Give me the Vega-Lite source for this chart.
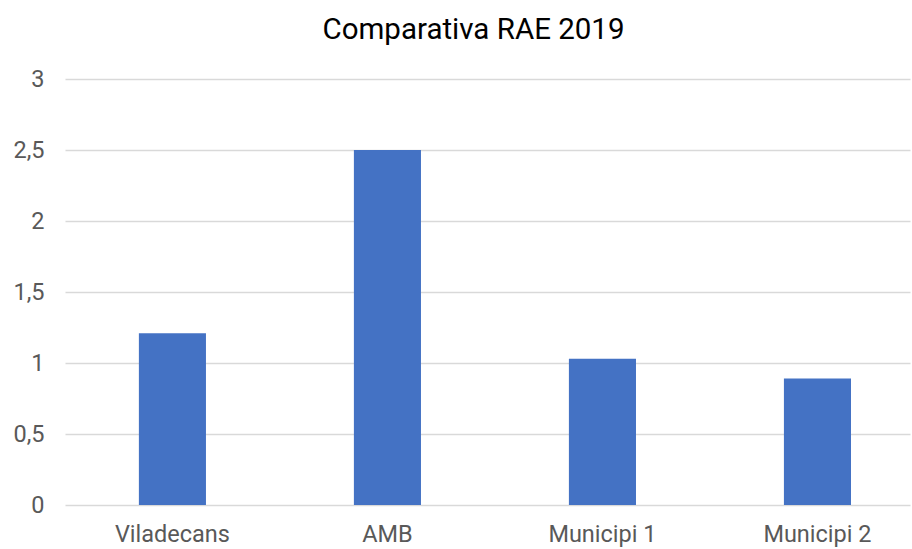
{
  "$schema": "https://vega.github.io/schema/vega-lite/v6.json",
  "width": 845,
  "height": 426,
  "autosize": {"type": "none"},
  "padding": {"left": 65, "top": 79, "right": 2, "bottom": 44},
  "background": "white",
  "title": {
    "text": "Comparativa RAE 2019",
    "font": "Roboto",
    "fontSize": 29.5,
    "fontWeight": "normal",
    "color": "#000000",
    "anchor": "middle",
    "dx": -14,
    "offset": 22
  },
  "data": {
    "values": [
      {"lloc": "Viladecans", "valor": 1.21},
      {"lloc": "AMB", "valor": 2.5},
      {"lloc": "Municipi 1", "valor": 1.03},
      {"lloc": "Municipi 2", "valor": 0.89}
    ]
  },
  "mark": {"type": "bar", "color": "#4472C4"},
  "encoding": {
    "x": {
      "field": "lloc",
      "type": "nominal",
      "sort": null,
      "scale": {"paddingInner": 0.688, "paddingOuter": 0.309, "align": 0.556},
      "axis": {
        "title": null,
        "labelAngle": 0,
        "labelFont": "Roboto",
        "labelFontSize": 23.5,
        "labelColor": "#595959",
        "labelPadding": 17,
        "ticks": false,
        "domain": false,
        "grid": false
      }
    },
    "y": {
      "field": "valor",
      "type": "quantitative",
      "scale": {"domain": [0, 3], "nice": false},
      "axis": {
        "title": null,
        "values": [0, 0.5, 1, 1.5, 2, 2.5, 3],
        "labelExpr": "replace(toString(datum.value), '.', ',')",
        "labelFont": "Roboto",
        "labelFontSize": 23.5,
        "labelColor": "#595959",
        "labelPadding": 21,
        "ticks": false,
        "domain": false,
        "grid": true,
        "gridColor": "#d9d9d9",
        "gridWidth": 1.5
      }
    }
  },
  "config": {"view": {"stroke": null}}
}
